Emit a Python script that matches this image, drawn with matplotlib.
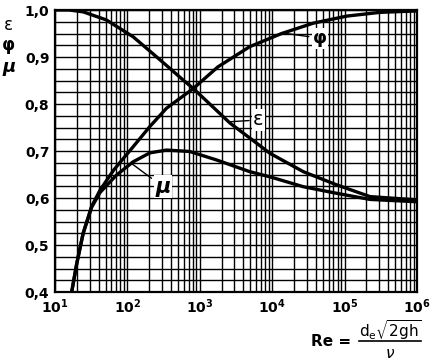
import matplotlib
matplotlib.use('Agg')

import matplotlib.pyplot as plt
from matplotlib.lines import Line2D
from matplotlib.ticker import MultipleLocator, FixedLocator, LogLocator, NullFormatter

# Reynolds-Zahl und Kennwerte
re_eps = [10, 15.8, 24.5, 51, 120, 282, 589, 813, 2630, 6170, 9330, 26900, 77600, 224000, 1e6]
eps = [1.0, 1.0, 0.996, 0.979, 0.943, 0.894, 0.851, 0.833, 0.759, 0.716, 0.695, 0.656, 0.628, 0.603, 0.596]

re_phi = [17, 20, 24.5, 32, 42, 65, 110, 204, 347, 813, 1780, 4900, 13500, 37000, 107000, 309000, 1e6]
phi = [0.40, 0.461, 0.525, 0.582, 0.617, 0.660, 0.702, 0.752, 0.791, 0.833, 0.879, 0.922, 0.950, 0.972, 0.987, 0.995, 0.998]

re_mu = [17, 20, 24.5, 32, 42, 71, 120, 204, 347, 724, 1700, 4900, 9330, 26900, 77600, 224000, 1e6]
mu = [0.40, 0.461, 0.525, 0.580, 0.612, 0.649, 0.677, 0.696, 0.702, 0.699, 0.681, 0.656, 0.645, 0.624, 0.610, 0.597, 0.592]

y_ticks = [0.4, 0.5, 0.6, 0.7, 0.8, 0.9, 1.0]
y_labels = ['0,4', '0,5', '0,6', '0,7', '0,8', '0,9', '1,0']
x_ticks = [1e1, 1e2, 1e3, 1e4, 1e5, 1e6]
x_labels = [r'$\mathbf{10^{1}}$', r'$\mathbf{10^{2}}$', r'$\mathbf{10^{3}}$',
            r'$\mathbf{10^{4}}$', r'$\mathbf{10^{5}}$', r'$\mathbf{10^{6}}$']

fig = plt.figure(figsize=(4.37, 3.64), dpi=100)
ax = fig.add_axes([55 / 437, 1 - 292 / 364, 362 / 437, 282 / 364])

ax.set_xscale('log')
ax.set_xlim(10, 1e6)
ax.set_ylim(0.4, 1.0)

ax.xaxis.set_major_locator(FixedLocator(x_ticks))
ax.xaxis.set_minor_locator(LogLocator(base=10, subs=range(2, 10), numticks=20))
ax.xaxis.set_minor_formatter(NullFormatter())
ax.set_xticks(x_ticks, x_labels)
ax.yaxis.set_minor_locator(MultipleLocator(0.025))
ax.set_yticks(y_ticks, y_labels)

ax.grid(True, which='both', color='black', lw=1.0)
ax.tick_params(which='both', length=0, labelsize=10, pad=4)
for lab in ax.get_yticklabels():
    lab.set_fontweight('bold')
for s in ax.spines.values():
    s.set_linewidth(1.6)

ax.plot(re_eps, eps, color='black', lw=2.4, solid_capstyle='butt', zorder=3)
ax.plot(re_phi, phi, color='black', lw=2.4, solid_capstyle='butt', zorder=3)
ax.plot(re_mu, mu, color='black', lw=2.4, solid_capstyle='butt', zorder=3)

# Beschriftungen mit Hinweislinien
box = dict(facecolor='white', edgecolor='none', pad=1)
line = dict(arrowstyle='-', color='black', lw=1, shrinkA=2, shrinkB=0)
ax.annotate('φ', xy=(10**4.15, 0.951), xytext=(10**4.66, 0.940),
            fontsize=13, fontweight='bold', ha='center', va='center', bbox=box,
            arrowprops=line, zorder=4)
ax.annotate('ε', xy=(10**3.39, 0.762), xytext=(10**3.81, 0.766),
            fontsize=14, ha='center', va='center', bbox=box,
            arrowprops=line, zorder=4)
ax.annotate('μ', xy=(10**2.07, 0.672), xytext=(10**2.49, 0.624),
            fontsize=15, fontweight='bold', fontstyle='italic', ha='center', va='center',
            bbox=box, arrowprops=line, zorder=4)

# Achsenbeschriftung links
fig.text(8 / 437, 1 - 25 / 364, 'ε', fontsize=12, ha='center', va='center')
fig.text(8 / 437, 1 - 45 / 364, 'φ', fontsize=12, fontweight='bold', ha='center', va='center')
fig.text(9 / 437, 1 - 67 / 364, 'μ', fontsize=13, fontweight='bold', fontstyle='italic',
         ha='center', va='center')

# Reynolds-Zahl Formel (Bruch von Hand gesetzt)
fig.text(331 / 437, 1 - 342 / 364, 'Re =', fontsize=11, fontweight='bold',
         ha='center', va='center')
fig.text(390 / 437, 1 - 330 / 364, r'$\mathsf{d_e}\sqrt{\mathsf{2gh}}$', fontsize=11,
         ha='center', va='center')
fig.text(390 / 437, 1 - 354 / 364, r'$\nu$', fontsize=11, ha='center', va='center')
fig.add_artist(Line2D([359 / 437, 421 / 437], [1 - 341 / 364, 1 - 341 / 364],
                      color='black', lw=1.2, transform=fig.transFigure))

fig.savefig('out.png', dpi=100)
